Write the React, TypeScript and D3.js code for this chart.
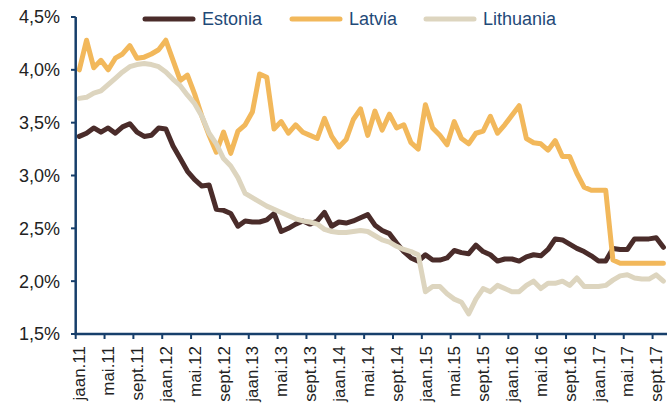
import React, { useEffect, useRef } from "react";
import * as d3 from "d3";

// monthly values, jaan.11 .. okt.17
const estonia = [
  3.37, 3.4, 3.45, 3.41, 3.45, 3.4, 3.46, 3.49, 3.41, 3.37, 3.38, 3.45,
  3.44, 3.28, 3.16, 3.04, 2.96, 2.9, 2.91, 2.68, 2.67, 2.64, 2.52, 2.57,
  2.56, 2.56, 2.58, 2.64, 2.47, 2.5, 2.54, 2.57, 2.54, 2.57, 2.65, 2.52,
  2.56, 2.55, 2.57, 2.6, 2.63, 2.53, 2.48, 2.45, 2.36, 2.28, 2.22, 2.19,
  2.25, 2.2, 2.2, 2.22, 2.29, 2.27, 2.26, 2.34, 2.28, 2.25, 2.19, 2.21,
  2.21, 2.19, 2.23, 2.25, 2.24, 2.3, 2.4, 2.39, 2.35, 2.31, 2.28, 2.24,
  2.19, 2.19, 2.31, 2.3, 2.3, 2.4, 2.4, 2.4, 2.41, 2.32,
];
const latvia = [
  4.0, 4.28, 4.02, 4.09, 4.0, 4.11, 4.15, 4.23, 4.11, 4.12, 4.15, 4.19,
  4.28, 4.09, 3.9, 3.95, 3.77, 3.56, 3.38, 3.22, 3.41, 3.21, 3.42, 3.48,
  3.6, 3.96, 3.93, 3.44, 3.51, 3.4, 3.48, 3.41, 3.38, 3.35, 3.54, 3.37,
  3.27, 3.34, 3.53, 3.63, 3.38, 3.61, 3.43, 3.58, 3.45, 3.48, 3.31, 3.25,
  3.67, 3.45, 3.38, 3.29, 3.51, 3.35, 3.3, 3.4, 3.42, 3.56, 3.4, 3.48,
  3.57, 3.66, 3.35, 3.31, 3.3, 3.24, 3.33, 3.18, 3.18, 3.02, 2.89, 2.86,
  2.86, 2.86, 2.2, 2.17, 2.17, 2.17, 2.17, 2.17, 2.17, 2.17,
];
const lithuania = [
  3.73, 3.74, 3.78, 3.8, 3.86, 3.92, 3.98, 4.03, 4.05, 4.06, 4.05, 4.03,
  3.98, 3.91, 3.85, 3.76, 3.68, 3.56, 3.4, 3.3, 3.16, 3.09, 2.98, 2.83,
  2.79, 2.75, 2.71, 2.68, 2.65, 2.62, 2.59, 2.57, 2.56, 2.54, 2.49, 2.47,
  2.46, 2.46, 2.47, 2.48, 2.47, 2.43, 2.39, 2.37, 2.33, 2.3, 2.28, 2.25,
  1.9, 1.95, 1.95, 1.88, 1.83, 1.8, 1.69, 1.83, 1.93, 1.9, 1.96, 1.93,
  1.9, 1.9, 1.96, 2.0, 1.93, 1.98, 1.98, 2.0, 1.96, 2.03, 1.95, 1.95,
  1.95, 1.96, 2.01, 2.05, 2.06, 2.03, 2.02, 2.02, 2.06, 2.0,
];
const monthNames = ["jaan", "mai", "sept"];
const yTicks = [1.5, 2.0, 2.5, 3.0, 3.5, 4.0, 4.5];

const seriesNames = ["Estonia", "Latvia", "Lithuania"];
const seriesColors = ["#4a2c2a", "#f2b85b", "#ddd5bf"];

const W = 667;
const H = 410;
const axisColor = "#173f6b";
const font = "'Liberation Sans', Arial, sans-serif";

const App = () => {
  const ref = useRef<SVGSVGElement>(null);

  useEffect(() => {
    const data = [estonia, latvia, lithuania];
    const n = estonia.length;

    const svg = d3.select(ref.current);
    svg.selectAll("*").remove();

    const x = d3.scaleLinear().domain([0, n]).range([75.7, 667]);
    const y = d3.scaleLinear().domain([1.5, 4.5]).range([334, 17]);

    // lines, in series order (Lithuania ends up on top)
    const line = d3
      .line<number>()
      .x((d, i) => x(i + 0.5))
      .y((d) => y(d));

    data.forEach((values, k) => {
      svg
        .append("path")
        .datum(values)
        .attr("d", line)
        .attr("fill", "none")
        .attr("stroke", seriesColors[k])
        .attr("stroke-width", 5)
        .attr("stroke-linejoin", "round")
        .attr("stroke-linecap", "round");
    });

    // y axis
    svg
      .append("line")
      .attr("x1", x(0))
      .attr("x2", x(0))
      .attr("y1", y(4.5))
      .attr("y2", y(1.5))
      .attr("stroke", axisColor)
      .attr("stroke-width", 2.5);

    yTicks.forEach((t) => {
      svg
        .append("line")
        .attr("x1", 71)
        .attr("x2", x(0))
        .attr("y1", y(t))
        .attr("y2", y(t))
        .attr("stroke", axisColor)
        .attr("stroke-width", 2);
      svg
        .append("text")
        .attr("x", 60)
        .attr("y", y(t))
        .attr("dy", "0.36em")
        .attr("text-anchor", "end")
        .style("font-family", font)
        .style("font-size", "18px")
        .style("fill", "#222")
        .text(t.toFixed(1).replace(".", ",") + "%");
    });

    // x axis
    svg
      .append("line")
      .attr("x1", x(0) - 1.25)
      .attr("x2", W)
      .attr("y1", y(1.5))
      .attr("y2", y(1.5))
      .attr("stroke", axisColor)
      .attr("stroke-width", 2.5);

    for (let i = 0; i < n; i += 4) {
      svg
        .append("line")
        .attr("x1", x(i))
        .attr("x2", x(i))
        .attr("y1", y(1.5))
        .attr("y2", y(1.5) + 5)
        .attr("stroke", axisColor)
        .attr("stroke-width", 2);

      const label =
        monthNames[(i % 12) / 4] + "." + String(11 + Math.floor(i / 12));
      svg
        .append("text")
        .attr("transform", `translate(${x(i + 0.5)}, 346) rotate(-90)`)
        .attr("text-anchor", "end")
        .attr("dy", "0.36em")
        .style("font-family", font)
        .style("font-size", "17px")
        .style("fill", "#222")
        .text(label);
    }

    // legend
    const legendX = [145, 292, 426];
    seriesNames.forEach((name, k) => {
      svg
        .append("line")
        .attr("x1", legendX[k])
        .attr("x2", legendX[k] + 48)
        .attr("y1", 19)
        .attr("y2", 19)
        .attr("stroke", seriesColors[k])
        .attr("stroke-width", 5)
        .attr("stroke-linecap", "round");
      svg
        .append("text")
        .attr("x", legendX[k] + 57)
        .attr("y", 19)
        .attr("dy", "0.36em")
        .style("font-family", font)
        .style("font-size", "18px")
        .style("fill", "#1f4a78")
        .text(name);
    });
  }, []);

  return (
    <svg
      ref={ref}
      width={W}
      height={H}
      style={{ position: "absolute", left: 0, top: 0, display: "block" }}
    />
  );
};

export default App;
